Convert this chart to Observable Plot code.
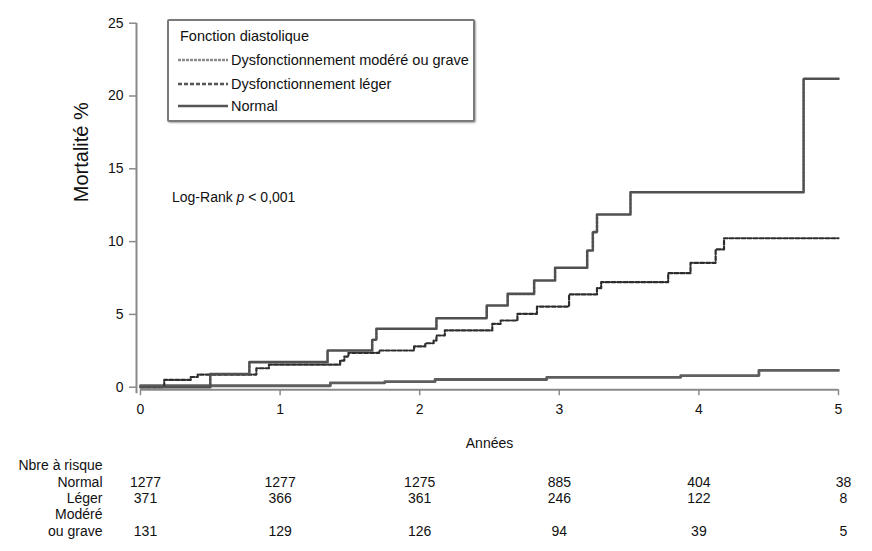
<!DOCTYPE html>
<html><head><meta charset="utf-8">
<script src="https://cdn.jsdelivr.net/npm/d3@7"></script>
<script src="https://cdn.jsdelivr.net/npm/@observablehq/plot@0.6"></script>
<style>
body{margin:0;background:#fff;font-family:"Liberation Sans",Arial,sans-serif;color:#111;}
#wrap{position:relative;width:872px;height:551px;overflow:hidden;}
#wrap svg.plot{position:absolute;left:0;top:0;}
.ov{position:absolute;white-space:nowrap;line-height:16px;}
#legbox{position:absolute;left:167px;top:19px;width:308px;height:103px;box-sizing:border-box;border:2px solid #7a7a7a;border-radius:2px;box-shadow:1px 1px 2px rgba(0,0,0,0.35);background:#fff;}
</style></head>
<body>
<div id="wrap"></div>
<script>
// ---- data ----
const years = [0, 1, 2, 3, 4, 5];
const yTicks = [0, 5, 10, 15, 20, 25];

const seriesNames = ["Dysfonctionnement modéré ou grave", "Dysfonctionnement léger", "Normal"];

// Modéré ou grave (cumulative mortality %, step-after)
const modT = [0, 0.50, 0.78, 1.34, 1.66, 1.69, 2.12, 2.48, 2.63, 2.82, 2.97, 3.20, 3.24, 3.27, 3.51, 4.75, 5.0];
const modV = [0, 0.9, 1.72, 2.52, 3.26, 4.01, 4.74, 5.61, 6.41, 7.33, 8.2, 9.39, 10.65, 11.86, 13.39, 21.18, 21.18];

// Léger
const legT = [0, 0.17, 0.36, 0.41, 0.83, 0.92, 1.43, 1.46, 1.49, 1.71, 1.96, 2.04, 2.10, 2.12, 2.18, 2.52, 2.58, 2.70, 2.84, 3.07, 3.27, 3.30, 3.78, 3.94, 4.12, 4.18, 5.0];
const legV = [0, 0.5, 0.7, 0.87, 1.3, 1.55, 1.83, 2.1, 2.36, 2.52, 2.8, 3.02, 3.2, 3.55, 3.9, 4.35, 4.58, 5.04, 5.54, 6.37, 6.8, 7.21, 7.83, 8.54, 9.46, 10.23, 10.23];

// Normal
const normT = [0, 1.36, 1.75, 2.11, 2.91, 3.87, 4.43, 5.0];
const normV = [0.1, 0.3, 0.38, 0.53, 0.68, 0.8, 1.15, 1.15];

// Nombre à risque
const riskNormal = [1277, 1277, 1275, 885, 404, 38];
const riskLeger = [371, 366, 361, 246, 122, 8];
const riskModere = [131, 129, 126, 94, 39, 5];
const riskLabels = ["Normal", "Léger", "Modéré", "ou grave"];

// ---- build tables ----
const toRows = (T, V) => T.map((t, i) => ({t, v: V[i]}));
const modRows = toRows(modT, modV);
const legRows = toRows(legT, legV);
const normRows = toRows(normT, normV);
const riskRows = (arr) => years.map((t, i) => ({t, n: String(arr[i]), edge: i === 0 || i === years.length - 1}));

const bottomY = 386.7;
const rowDy = {normal: 486 - bottomY, leger: 502 - bottomY, modere: 518 - bottomY, grave: 535 - bottomY};

function riskMarks(arr, dy) {
  const rows = riskRows(arr);
  return [
    Plot.text(rows.filter(d => !d.edge), {x: "t", text: "n", frameAnchor: "bottom", dy, fontSize: 14}),
    Plot.text(rows.filter(d => d.edge), {x: "t", text: "n", frameAnchor: "bottom", dy, dx: 5, fontSize: 14})
  ];
}

const plot = Plot.plot({
  width: 872,
  height: 551,
  marginLeft: 140,
  marginRight: 34,
  marginTop: 22.7,
  marginBottom: 551 - bottomY,
  x: {domain: [0, 5]},
  y: {domain: [0, 25]},
  style: {fontFamily: "'Liberation Sans', Arial, sans-serif", fontSize: "14px", color: "#111", background: "transparent"},
  marks: [
    Plot.ruleX([0], {y1: -0.45, y2: 25, dx: -4, stroke: "#8a8a8a", strokeWidth: 2}),
    Plot.ruleY([0], {dy: 2.5, stroke: "#8a8a8a", strokeWidth: 2}),
    Plot.axisY({ticks: yTicks, tickSize: 7, dx: -4, tickPadding: 6, stroke: "#8a8a8a", strokeWidth: 1.5, label: null, fontSize: 14, tickFormat: d => String(d)}),
    Plot.axisX({ticks: years, tickSize: 6, dy: 2.5, tickPadding: 8, stroke: "#8a8a8a", strokeWidth: 1.5, label: null, fontSize: 14, tickFormat: d => String(d)}),
    Plot.line(normRows, {x: "t", y: "v", curve: "step-after", stroke: "#5e5e5e", strokeWidth: 2.8}),
    Plot.line(legRows, {x: "t", y: "v", curve: "step-after", stroke: "#2e2e2e", strokeWidth: 2.2, strokeDasharray: "4,2"}),
    Plot.line(modRows, {x: "t", y: "v", curve: "step-after", stroke: "#505050", strokeWidth: 2.6, strokeDasharray: "3,1"}),
    Plot.text(["Mortalité %"], {frameAnchor: "left", dx: -59, dy: -3, rotate: -90, fontSize: 20}),
    Plot.text(["Années"], {frameAnchor: "bottom", dy: 447 - bottomY, fontSize: 14}),
    Plot.text(["Nbre à risque"], {frameAnchor: "bottom-left", dx: -38, dy: 469 - bottomY, textAnchor: "end", fontSize: 14}),
    Plot.text([riskLabels[0]], {frameAnchor: "bottom-left", dx: -38, dy: rowDy.normal, textAnchor: "end", fontSize: 14}),
    Plot.text([riskLabels[1]], {frameAnchor: "bottom-left", dx: -38, dy: rowDy.leger, textAnchor: "end", fontSize: 14}),
    Plot.text([riskLabels[2]], {frameAnchor: "bottom-left", dx: -38, dy: rowDy.modere, textAnchor: "end", fontSize: 14}),
    Plot.text([riskLabels[3]], {frameAnchor: "bottom-left", dx: -38, dy: rowDy.grave, textAnchor: "end", fontSize: 14}),
    ...riskMarks(riskNormal, rowDy.normal),
    ...riskMarks(riskLeger, rowDy.leger),
    ...riskMarks(riskModere, rowDy.grave)
  ]
});
plot.classList.add("plot");
const wrap = document.getElementById("wrap");
wrap.appendChild(plot);

// ---- legend & annotation overlay ----
const box = document.createElement("div");
box.id = "legbox";
wrap.appendChild(box);

function ov(html, left, cy, size) {
  const d = document.createElement("div");
  d.className = "ov";
  d.style.left = left + "px";
  d.style.top = (cy - 8) + "px";
  d.style.fontSize = size + "px";
  d.innerHTML = html;
  wrap.appendChild(d);
  return d;
}
ov("Fonction diastolique", 180, 36, 14.5);
const legendStyles = [
  {stroke: "#8a8a8a", w: 2.4, dash: "3,1"},
  {stroke: "#555", w: 2.4, dash: "4,2"},
  {stroke: "#555", w: 2.4, dash: null}
];
const legY = [60, 84, 106];
seriesNames.forEach((name, i) => {
  const s = legendStyles[i];
  const sw = document.createElementNS("http://www.w3.org/2000/svg", "svg");
  sw.setAttribute("width", 52); sw.setAttribute("height", 6);
  sw.style.position = "absolute"; sw.style.left = "177px"; sw.style.top = (legY[i] - 3) + "px";
  const ln = document.createElementNS("http://www.w3.org/2000/svg", "line");
  ln.setAttribute("x1", 1); ln.setAttribute("x2", 51); ln.setAttribute("y1", 3); ln.setAttribute("y2", 3);
  ln.setAttribute("stroke", s.stroke); ln.setAttribute("stroke-width", s.w);
  if (s.dash) ln.setAttribute("stroke-dasharray", s.dash);
  sw.appendChild(ln);
  wrap.appendChild(sw);
  ov(name, 231, legY[i], 14.5);
});
ov("Log-Rank <i>p</i> &lt; 0,001", 172, 197, 14);
</script>
</body></html>
